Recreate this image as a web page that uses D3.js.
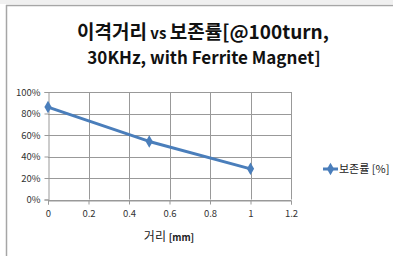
<!DOCTYPE html>
<html><head><meta charset="utf-8">
<script src="https://cdn.jsdelivr.net/npm/d3@7"></script>
<style>html,body{margin:0;padding:0;background:#fff}svg{display:block}</style>
</head><body>
<svg id="c" width="393" height="256"></svg>
<script>
const xValues = [0, 0.5, 1];
const seriesValues = [0.86, 0.54, 0.285];
const seriesName = "보존률 [%]";
const xTicks = [0, 0.2, 0.4, 0.6, 0.8, 1, 1.2];
const yTicks = [0, 0.2, 0.4, 0.6, 0.8, 1];
const titleLine1 = ["이격거리", " vs ", "보존률[@100turn,"];
const titleLine2 = "30KHz, with Ferrite Magnet]";

const svg = d3.select("#c");
const font = "'Noto Sans CJK KR', 'Noto Sans', sans-serif";
const color = "#4a7ebb";

// frame
svg.append("rect").attr("x",0).attr("y",0).attr("width",393).attr("height",4).attr("fill","#f0f0f0");
svg.append("line").attr("x1",6).attr("x2",393).attr("y1",5.5).attr("y2",5.5).attr("stroke","#a6a6a6").attr("stroke-width",1.5);
svg.append("line").attr("x1",6.5).attr("x2",6.5).attr("y1",5).attr("y2",256).attr("stroke","#a6a6a6").attr("stroke-width",1.5);

const x = d3.scaleLinear().domain([0,1.2]).range([48,291]);
const y = d3.scaleLinear().domain([0,1]).range([199.5,92]);

// grid
const g = svg.append("g");
g.selectAll(".hg").data(yTicks).join("line")
  .attr("x1",x(0)).attr("x2",x(1.2)).attr("y1",d=>Math.round(y(d))+0.5).attr("y2",d=>Math.round(y(d))+0.5)
  .attr("stroke","#999").attr("stroke-width",1);
g.selectAll(".vg").data(xTicks.slice(1)).join("line")
  .attr("x1",d=>Math.round(x(d))+0.5).attr("x2",d=>Math.round(x(d))+0.5).attr("y1",y(1)).attr("y2",y(0))
  .attr("stroke","#999").attr("stroke-width",1);

// axes
const xa = svg.append("g").attr("transform",`translate(0,${Math.round(y(0))+0.5})`)
  .call(d3.axisBottom(x).tickValues(xTicks).tickSize(4).tickPadding(6).tickFormat(d=>d3.format("")(d)));
const ya = svg.append("g").attr("transform",`translate(${Math.round(x(0))+0.5},0)`)
  .call(d3.axisLeft(y).tickValues(yTicks).tickSize(4).tickPadding(4).tickFormat(d3.format(".0%")));
[xa,ya].forEach(a=>{
  a.select(".domain").attr("stroke","#999");
  a.selectAll(".tick line").attr("stroke","#999");
  a.selectAll("text").attr("font-family",font).attr("font-size",9.5).attr("fill","#333");
});

// line
svg.append("path").datum(xValues.map((v,i)=>[v,seriesValues[i]]))
  .attr("d", d3.line().x(d=>x(d[0])).y(d=>y(d[1])))
  .attr("fill","none").attr("stroke",color).attr("stroke-width",3).attr("stroke-linejoin","round");
const diamond = d3.symbol().type(d3.symbolDiamond).size(45);
svg.selectAll(".pt").data(xValues).join("path")
  .attr("transform",(d,i)=>`translate(${x(d)},${y(seriesValues[i])})`)
  .attr("d",diamond).attr("fill",color);

// title
const t1 = svg.append("text").attr("x",203).attr("y",39).attr("text-anchor","middle")
  .attr("font-family",font).attr("font-weight","bold").attr("fill","#111");
t1.append("tspan").attr("font-size",19).text(titleLine1[0]);
t1.append("tspan").attr("font-size",15).text(titleLine1[1]);
t1.append("tspan").attr("font-size",19).text(titleLine1[2]);
svg.append("text").attr("x",204).attr("y",64).attr("text-anchor","middle")
  .attr("font-family",font).attr("font-weight","bold").attr("font-size",17).attr("fill","#111").text(titleLine2);

// x axis title
const xt = svg.append("text").attr("x",169).attr("y",241).attr("text-anchor","middle")
  .attr("font-family",font).attr("fill","#222");
xt.append("tspan").attr("font-size",12).text("거리 ");
xt.append("tspan").attr("font-size",9.5).attr("font-weight","bold").text("[mm]");

// legend
const ly = 169;
svg.append("line").attr("x1",323).attr("x2",338).attr("y1",ly).attr("y2",ly).attr("stroke",color).attr("stroke-width",3);
svg.append("path").attr("transform",`translate(330.5,${ly})`).attr("d",diamond).attr("fill",color);
svg.append("text").attr("x",339).attr("y",ly+4).attr("font-family",font).attr("font-size",11).attr("fill","#222").text(seriesName);
</script>
</body></html>
